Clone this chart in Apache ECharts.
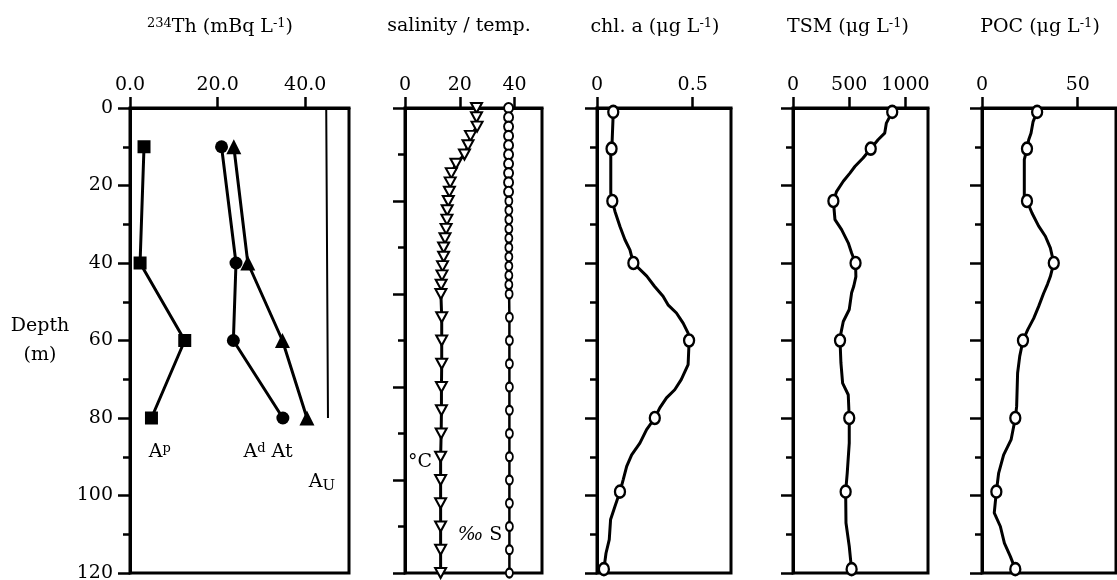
<!DOCTYPE html>
<html>
<head>
<meta charset="utf-8">
<title>234Th profiles</title>
<script src="https://cdn.jsdelivr.net/npm/echarts@6/dist/echarts.min.js"></script>
<style>
  html, body { margin: 0; padding: 0; background: #fff; }
  #main { width: 1117px; height: 580px; }
</style>
</head>
<body>
<div id="main"></div>
<script>
var FONT = 'DejaVu Serif';
var FS = 19;

// 234Th at bottle depths (mBq/L)
var thDepth = [10, 40, 60, 80];
var thAp = [3.2, 2.3, 12.5, 4.9];
var thAd = [20.9, 24.2, 23.6, 34.9];
var thAt = [23.7, 26.9, 34.8, 40.4];
var uDepth = [0, 40, 80];
var thAu = [44.8, 45.0, 45.2];

// CTD: temperature and salinity
var ctdDepth = [0, 2.4, 4.8, 7.2, 9.6, 12, 14.4, 16.8, 19.2, 21.6, 24, 26.4, 28.8, 31.2, 33.6, 36, 38.4, 40.8, 43.2, 45.6, 48,
                54, 60, 66, 72, 78, 84, 90, 96, 102, 108, 114, 120];
var temp = [26.1, 26.1, 26.3, 23.9, 23.0, 21.7, 18.6, 16.9, 16.5, 16.2, 15.8, 15.4, 15.3, 15.0, 14.6, 14.1, 14.1, 13.7, 13.5, 13.2, 13.1,
            13.4, 13.4, 13.4, 13.3, 13.3, 13.2, 13.0, 13.0, 13.0, 13.0, 13.0, 13.0];
var salinity = [37.8, 37.8, 37.8, 37.8, 37.8, 37.8, 37.8, 37.8, 37.8, 37.8, 37.9, 37.9, 37.9, 37.9, 37.9, 37.9, 37.9, 37.9, 37.9, 37.9, 38.0,
                38.1, 38.1, 38.1, 38.1, 38.1, 38.1, 38.1, 38.1, 38.1, 38.1, 38.1, 38.1];

// bottle depths for chl / TSM / POC
var bottleDepth = [1, 10.5, 24, 40, 60, 80, 99, 119];

// chlorophyll a (ug/L)
var chlDepth = [1, 9.9, 10.5, 12, 22, 24, 26.7, 30.6, 34, 36.6, 40, 43.4, 46, 48.6, 50.8, 52.9, 55.5, 58.1, 60.4, 66.2, 70.1, 72.7,
                74.8, 77.4, 80, 83, 86.5, 89.5, 92.5, 95.9, 99, 102.8, 106.2, 111.4, 114.9, 119];
var chl = [0.085, 0.078, 0.076, 0.072, 0.072, 0.08, 0.094, 0.12, 0.146, 0.172, 0.19, 0.26, 0.3, 0.345, 0.371, 0.415, 0.45, 0.476, 0.481,
           0.476, 0.44, 0.406, 0.363, 0.328, 0.302, 0.259, 0.224, 0.181, 0.155, 0.137, 0.12, 0.094, 0.071, 0.064, 0.047, 0.036];
var chlBottle = [0.085, 0.076, 0.08, 0.19, 0.481, 0.302, 0.12, 0.036];

// total suspended matter (ug/L)
var tsmDepth = [1, 3.9, 6.5, 8.2, 10.5, 12.9, 15.1, 16.8, 18.9, 21.5, 24, 28.8, 31.4, 34.8, 37.4, 40, 43.5, 46, 47.7, 52, 55.1, 58.1,
                60, 65.8, 71, 74, 80, 86.5, 94.2, 99, 107.1, 113.1, 116.6, 119];
var tsm = [882, 830, 815, 756, 691, 623, 550, 506, 447, 388, 359, 373, 432, 491, 521, 556, 559, 540, 521, 500, 447, 426,
           418, 426, 441, 491, 500, 500, 482, 468, 471, 500, 512, 521];
var tsmBottle = [882, 691, 359, 556, 418, 500, 468, 521];

// particulate organic carbon (ug/L)
var pocDepth = [1, 3.5, 6.5, 8.2, 10.5, 13.3, 22.8, 24, 27.1, 30.5, 33.1, 36.1, 40, 43.5, 45.5, 47.8, 51.2, 54.3, 57.2, 60, 64.1,
                68.4, 77, 80, 85.6, 89.5, 94.2, 99, 104.5, 108, 112.3, 115.7, 119];
var poc = [28.8, 26.7, 25.6, 24.4, 23.5, 22.1, 22.1, 23.5, 26.1, 29.6, 33.1, 35.7, 37.5, 35.7, 34.2, 32.2, 29.6, 27, 23.9, 21.4, 19.7,
           18.6, 18.1, 17.4, 15.2, 11.3, 8.7, 7.5, 6.4, 9.6, 11.7, 14.8, 17.4];
var pocBottle = [28.8, 23.5, 23.5, 37.5, 21.4, 17.4, 7.5, 17.4];

// panel titles and top-axis ticks
var titles = [
    '{sup|234}{t|Th (mBq L}{sup|-1}{t|)}',
    '{t|salinity / temp.}',
    '{t|chl. a (μg L}{sup|-1}{t|)}',
    '{t|TSM (μg L}{sup|-1}{t|)}',
    '{t|POC (μg L}{sup|-1}{t|)}'
];
var xMax = [50, 50, 0.7, 1200, 70];
var xTicks = [[0, 20, 40], [0, 20, 40], [0, 0.5], [0, 500, 1000], [0, 50]];

// in-plot labels, anchored in data units
var thLabels = ['{b|A}{sup|p}', '{b|A}{sup|d}{b| At}', '{b|A}{sub|U}'];
var thLabelX = [6.8, 31.5, 43.8];
var thLabelY = [88.8, 88.8, 96.5];
var ctdLabels = ['{b|°C}', '{i|‰}{b| S}'];
var ctdLabelX = [5.5, 27.4];
var ctdLabelY = [91.4, 110.2];

function pairs(xs, ys) {
    return ys.map(function (d, i) { return [xs[i], d]; });
}

var rich = {
    t: { fontFamily: FONT, fontSize: FS, color: '#000' },
    b: { fontFamily: FONT, fontSize: FS, color: '#000' },
    i: { fontFamily: FONT, fontSize: FS, fontStyle: 'italic', color: '#000' },
    sup: { fontFamily: FONT, fontSize: 13, color: '#000', verticalAlign: 'top', padding: [0, 0, 7, 0] },
    sub: { fontFamily: FONT, fontSize: 15, color: '#000', verticalAlign: 'bottom', padding: [9, 0, 0, 0] }
};

var gridPos = [[130, 219], [405, 137], [597, 134], [793, 135], [982, 134]];
var titleX = [220, 459, 655, 848, 1040];

var chart = echarts.init(document.getElementById('main'));

var option = {
    animation: false,
    backgroundColor: '#fff',
    title: titles.map(function (t, i) {
        return {
            text: t, left: titleX[i], top: 17, textAlign: 'center', padding: 0,
            textStyle: { fontFamily: FONT, fontSize: FS, fontWeight: 'normal', color: '#000', rich: rich }
        };
    }),
    grid: gridPos.map(function (g) {
        return { left: g[0], width: g[1], top: 108, height: 465, show: true, outerBoundsMode: 'none',
                 borderColor: '#000', borderWidth: 3, backgroundColor: 'transparent' };
    }),
    xAxis: gridPos.map(function (g, i) {
        return {
            type: 'value', gridIndex: i, position: 'top', min: 0, max: xMax[i],
            axisLine: { show: true, lineStyle: { color: '#000', width: 3 } },
            axisTick: { show: true, length: 11, customValues: xTicks[i], lineStyle: { color: '#000', width: 2.5 } },
            axisLabel: {
                show: true, margin: 13, customValues: xTicks[i],
                fontFamily: FONT, fontSize: FS, color: '#000',
                formatter: function (v) { return i === 0 ? v.toFixed(1) : String(v); }
            },
            splitLine: { show: false }
        };
    }),
    yAxis: gridPos.map(function (g, i) {
        return {
            type: 'value', gridIndex: i, inverse: true, min: 0, max: 120, interval: i === 1 ? 24 : 20,
            name: i === 0 ? 'Depth\n(m)' : '', nameLocation: 'middle', nameRotate: 0, nameGap: 90,
            nameTextStyle: { fontFamily: FONT, fontSize: FS, color: '#000', lineHeight: 29, align: 'center',
                             padding: [0, 0, 24, 0] },
            axisLine: { show: true, lineStyle: { color: '#000', width: 3 } },
            axisTick: { show: true, length: 12, lineStyle: { color: '#000', width: 2.5 } },
            minorTick: { show: true, splitNumber: 2, length: 7, lineStyle: { color: '#000', width: 2.5 } },
            axisLabel: { show: i === 0, margin: 17, fontFamily: FONT, fontSize: FS, color: '#000' },
            splitLine: { show: false },
            minorSplitLine: { show: false }
        };
    }),
    series: [
        {
            name: 'Ap', type: 'line', xAxisIndex: 0, yAxisIndex: 0, data: pairs(thAp, thDepth),
            symbol: 'rect', symbolSize: 13, itemStyle: { color: '#000' }, lineStyle: { color: '#000', width: 3 }
        },
        {
            name: 'Ad', type: 'line', xAxisIndex: 0, yAxisIndex: 0, data: pairs(thAd, thDepth),
            symbol: 'circle', symbolSize: 13, itemStyle: { color: '#000' }, lineStyle: { color: '#000', width: 3 }
        },
        {
            name: 'At', type: 'line', xAxisIndex: 0, yAxisIndex: 0, data: pairs(thAt, thDepth),
            symbol: 'triangle', symbolSize: 15, itemStyle: { color: '#000' }, lineStyle: { color: '#000', width: 3 }
        },
        {
            name: 'Au', type: 'line', xAxisIndex: 0, yAxisIndex: 0, data: pairs(thAu, uDepth),
            symbol: 'none', lineStyle: { color: '#000', width: 2 }
        },
        {
            name: 'Th labels', type: 'scatter', xAxisIndex: 0, yAxisIndex: 0, data: pairs(thLabelX, thLabelY),
            symbolSize: 0, itemStyle: { color: '#000', opacity: 1 }, silent: true,
            label: { show: true, position: 'inside', color: '#000', textBorderWidth: 0,
                     formatter: function (p) { return thLabels[p.dataIndex]; }, rich: rich }
        },
        {
            name: 'salinity', type: 'line', xAxisIndex: 1, yAxisIndex: 1, data: pairs(salinity, ctdDepth),
            symbol: 'circle',
            symbolSize: function (v) { return v[1] < 23 ? [9, 10] : [7, 9]; },
            itemStyle: { color: '#fff', borderColor: '#000', borderWidth: 2 },
            lineStyle: { color: '#000', width: 2.5 }
        },
        {
            name: 'temperature', type: 'line', xAxisIndex: 1, yAxisIndex: 1, data: pairs(temp, ctdDepth),
            symbol: 'triangle', symbolRotate: 180, symbolSize: [11, 10],
            itemStyle: { color: '#fff', borderColor: '#000', borderWidth: 2 },
            lineStyle: { color: '#000', width: 3 }
        },
        {
            name: 'CTD labels', type: 'scatter', xAxisIndex: 1, yAxisIndex: 1, data: pairs(ctdLabelX, ctdLabelY),
            symbolSize: 0, itemStyle: { color: '#000', opacity: 1 }, silent: true,
            label: { show: true, position: 'inside', color: '#000', textBorderWidth: 0,
                     formatter: function (p) { return ctdLabels[p.dataIndex]; }, rich: rich }
        },
        {
            name: 'chl', type: 'line', xAxisIndex: 2, yAxisIndex: 2, data: pairs(chl, chlDepth),
            showSymbol: false, symbol: 'none', lineStyle: { color: '#000', width: 3 }
        },
        {
            name: 'chl bottles', type: 'scatter', xAxisIndex: 2, yAxisIndex: 2, data: pairs(chlBottle, bottleDepth),
            symbol: 'circle', symbolSize: [10, 12], z: 5,
            itemStyle: { color: '#fff', borderColor: '#000', borderWidth: 2.5, opacity: 1 }
        },
        {
            name: 'TSM', type: 'line', xAxisIndex: 3, yAxisIndex: 3, data: pairs(tsm, tsmDepth),
            showSymbol: false, symbol: 'none', lineStyle: { color: '#000', width: 3 }
        },
        {
            name: 'TSM bottles', type: 'scatter', xAxisIndex: 3, yAxisIndex: 3, data: pairs(tsmBottle, bottleDepth),
            symbol: 'circle', symbolSize: [10, 12], z: 5,
            itemStyle: { color: '#fff', borderColor: '#000', borderWidth: 2.5, opacity: 1 }
        },
        {
            name: 'POC', type: 'line', xAxisIndex: 4, yAxisIndex: 4, data: pairs(poc, pocDepth),
            showSymbol: false, symbol: 'none', lineStyle: { color: '#000', width: 3 }
        },
        {
            name: 'POC bottles', type: 'scatter', xAxisIndex: 4, yAxisIndex: 4, data: pairs(pocBottle, bottleDepth),
            symbol: 'circle', symbolSize: [10, 12], z: 5,
            itemStyle: { color: '#fff', borderColor: '#000', borderWidth: 2.5, opacity: 1 }
        }
    ]
};

chart.setOption(option);
</script>
</body>
</html>
